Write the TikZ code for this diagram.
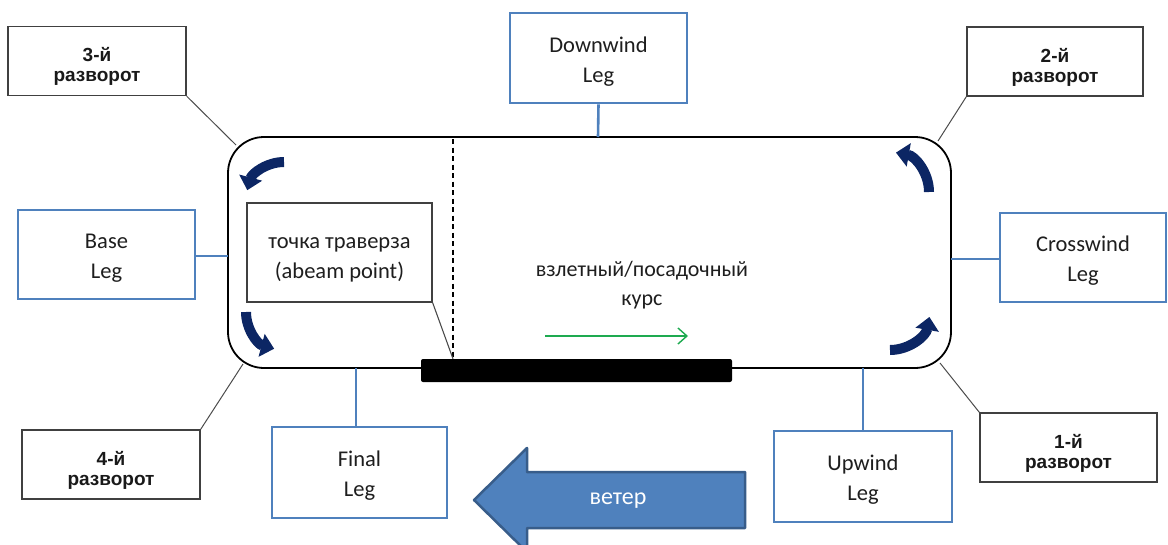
\documentclass[tikz,border=0pt]{standalone}
\usepackage{fontspec}
\setmainfont{Carlito}
\newfontfamily\arialf{Liberation Sans}
\usetikzlibrary{arrows.meta,calc}
\definecolor{legblue}{RGB}{79,129,189}
\definecolor{navy}{RGB}{12,38,100}
\definecolor{windfill}{RGB}{79,129,189}
\definecolor{windedge}{RGB}{56,93,138}
\definecolor{rwgreen}{RGB}{30,170,80}
\definecolor{txt}{RGB}{30,30,30}
\newcommand\legup{\rule{0pt}{22pt}}
\newcommand\turnup{\rule{0pt}{25pt}}
\tikzset{
  legbox/.style={draw=legblue, line width=2.6pt, fill=white, inner sep=0pt, align=center,
    text=txt, font=\fontsize{22.5}{30}\selectfont},
  turnbox/.style={draw=black!75, line width=1.4pt, fill=white, inner sep=0pt, align=center,
    text=black!90, font=\arialf\bfseries\fontsize{19}{20}\selectfont},
  legline/.style={draw=legblue, line width=2.6pt},
  turnline/.style={draw=black!70, line width=1pt},
  turnarrow/.style={draw=navy, line width=10pt, -{Triangle[width=23pt,length=13pt]}},
}
\begin{document}
\begin{tikzpicture}[x=1pt,y=-1pt]
\useasboundingbox (0,0) rectangle (1168,544);
\clip (0,0) rectangle (1168,544);
% pattern
\draw[line width=1.8pt, rounded corners=36pt] (228,137) rectangle (951,368);
\coordinate (ptop) at (598,137);
\coordinate (pleft) at (228,256);
\coordinate (pright) at (951,259);
\coordinate (pbotL) at (356,368);
\coordinate (pbotR) at (863,368);
\coordinate (c3) at (236,145);
\coordinate (c2) at (938,141);
\coordinate (c4) at (243,364);
\coordinate (c1) at (940,363);
% dashed abeam line
\coordinate (dtop) at (453,139);
\coordinate (dbot) at (453,359);
\draw[line width=1.3pt, dash pattern=on 5pt off 3.5pt] (dtop) -- (dbot);
% runway
\node[fill=black, rounded corners=2pt, minimum width=311pt, minimum height=23pt, inner sep=0pt] (rw) at (576.5,370.5) {};
% abeam box
\node[draw=black!75, line width=1.2pt, fill=white, minimum width=185pt, minimum height=99pt, inner sep=0pt,
  align=center, text=txt, font=\fontsize{22.5}{30}\selectfont] (ab) at (339.5,252.5) {\rule{0pt}{26pt}точка траверза\\(abeam point)};
\draw[turnline, line width=1.1pt] (ab.south east) -- (rw.north west -| dbot);
% course text and arrow
\node[text=txt, align=center, font=\fontsize{22}{29}\selectfont] (course) at (642,285) {взлетный/посадочный\\курс};
\coordinate (ga) at (545,336);
\coordinate (gb) at (688,336);
\draw[draw=rwgreen, line width=1.4pt, -{Straight Barb[length=9pt,width=16pt]}] (ga) -- (gb);
% leg boxes
\node[legbox, minimum width=177pt, minimum height=90pt] (down) at (598.5,58) {\legup Downwind\\Leg};
\node[legbox, minimum width=177pt, minimum height=89pt] (base) at (106.5,254.5) {\legup Base\\Leg};
\node[legbox, minimum width=166pt, minimum height=89pt] (cross) at (1083,257.5) {\legup Crosswind\\Leg};
\node[legbox, minimum width=175pt, minimum height=91pt] (final) at (359.5,472.5) {\legup Final\\Leg};
\node[legbox, minimum width=178pt, minimum height=91pt] (up) at (863,476.5) {\legup Upwind\\Leg};
\draw[legline] (down.south) -- (ptop);
\draw[legline] (base.east |- pleft) -- (pleft);
\draw[legline] (pright) -- (cross.west |- pright);
\draw[legline] (pbotL) -- (final.north -| pbotL);
\draw[legline] (pbotR) -- (up.north -| pbotR);
% turn boxes
\node[turnbox, minimum width=178pt, minimum height=69pt] (t3) at (97,61) {\turnup 3-й\\разворот};
\node[turnbox, minimum width=176pt, minimum height=69pt] (t2) at (1055,61.5) {\turnup 2-й\\разворот};
\node[turnbox, minimum width=178pt, minimum height=69pt] (t4) at (111,464.5) {\turnup 4-й\\разворот};
\node[turnbox, minimum width=177pt, minimum height=69pt] (t1) at (1068.5,447.5) {\turnup 1-й\\разворот};
\draw[turnline] (t3.south east) -- (c3);
\draw[turnline] (t2.south west) -- (c2);
\draw[turnline] (t4.north east) -- (c4);
\draw[turnline] (t1.north west) -- (c1);
% turn arrows
\draw[turnarrow] (284,162) arc[start angle=-90, end angle=-165, radius=38];
\draw[turnarrow] (246,312) arc[start angle=-180, end angle=-255, radius=38];
\draw[turnarrow] (929,192) arc[start angle=0, end angle=-80, radius=40];
\draw[turnarrow] (890,350) arc[start angle=-270, end angle=-350, radius=40];
% wind arrow
\draw[fill=windfill, draw=windedge, line width=2.5pt, line join=round]
  (474,500) -- (527,448) -- (527,472) -- (745,472) -- (745,528) -- (527,528) -- (527,552) -- cycle;
\node[text=white, font=\fontsize{24}{26}\selectfont] (wind) at (618,501) {ветер};
\end{tikzpicture}
\end{document}
